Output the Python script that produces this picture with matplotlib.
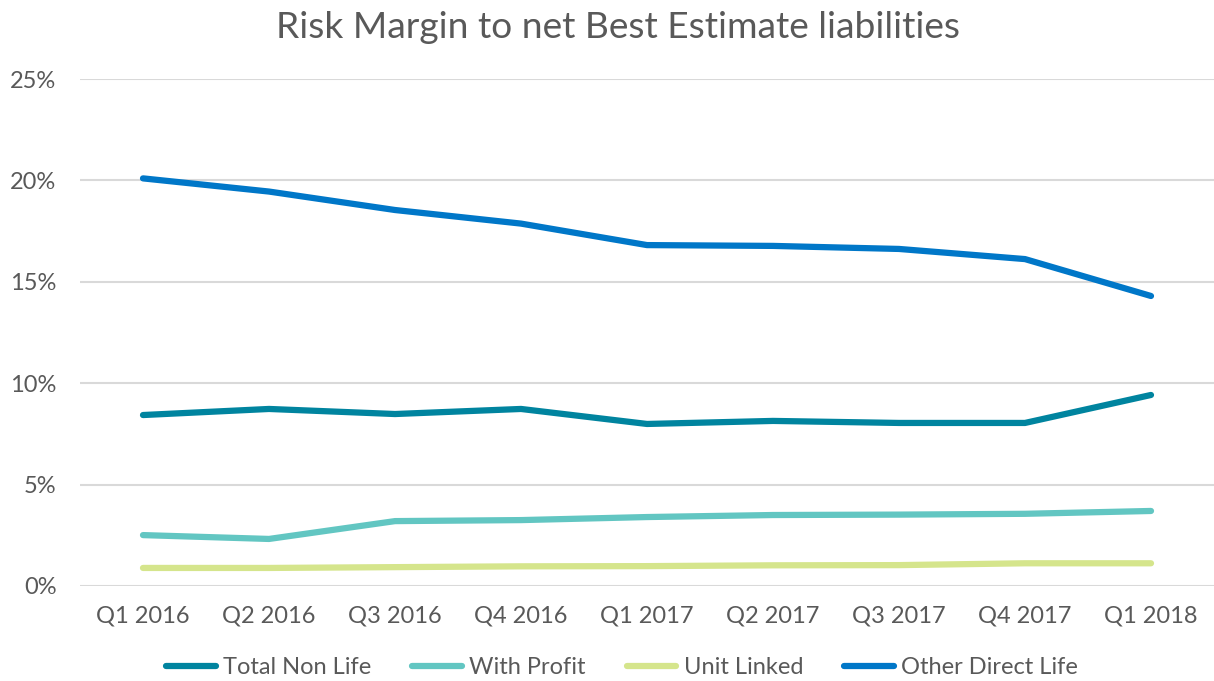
import matplotlib.pyplot as plt
from matplotlib.ticker import PercentFormatter

quarters = ['Q1 2016', 'Q2 2016', 'Q3 2016', 'Q4 2016', 'Q1 2017',
            'Q2 2017', 'Q3 2017', 'Q4 2017', 'Q1 2018']
total_non_life = [8.43, 8.73, 8.48, 8.73, 7.99, 8.14, 8.04, 8.04, 9.42]
with_profit = [2.51, 2.32, 3.20, 3.25, 3.40, 3.50, 3.52, 3.56, 3.70]
unit_linked = [0.89, 0.89, 0.93, 0.97, 0.98, 1.02, 1.03, 1.12, 1.12]
other_direct_life = [20.1, 19.45, 18.54, 17.87, 16.81, 16.77, 16.62, 16.12, 14.3]

plt.rcParams['font.family'] = ['Lato', 'DejaVu Sans']
grey = '#595959'

fig = plt.figure(figsize=(12.14, 6.81), dpi=100)
ax = fig.add_axes([80 / 1214, 1 - 586 / 681, 1134 / 1214, 507 / 681])

x = range(len(quarters))
ax.plot(x, total_non_life, color='#00849F', lw=4.5, solid_capstyle='round', label='Total Non Life')
ax.plot(x, with_profit, color='#62C6C2', lw=4.5, solid_capstyle='round', label='With Profit')
ax.plot(x, unit_linked, color='#D5E58C', lw=4.5, solid_capstyle='round', label='Unit Linked')
ax.plot(x, other_direct_life, color='#0077C8', lw=4.5, solid_capstyle='round', label='Other Direct Life')

ax.set_xlim(-0.5, len(quarters) - 0.5)
ax.set_ylim(0, 25)
ax.set_yticks([0, 5, 10, 15, 20, 25])
ax.yaxis.set_major_formatter(PercentFormatter(decimals=0))
ax.set_xticks(list(x))
ax.set_xticklabels(quarters)
ax.grid(axis='y', color='#D9D9D9', lw=1.5)
ax.set_axisbelow(True)
for s in ax.spines.values():
    s.set_visible(False)
ax.tick_params(length=0, labelsize=17, labelcolor=grey)
ax.tick_params(axis='y', pad=17)
ax.tick_params(axis='x', pad=14)

fig.text(618 / 1214, 1 - 27 / 681, 'Risk Margin to net Best Estimate liabilities',
         ha='center', va='center', fontsize=26.7, color=grey)

leg = fig.legend(loc='center', bbox_to_anchor=(622 / 1214, 1 - 668 / 681), ncol=4,
                 frameon=False, fontsize=17, handlelength=2.1, handletextpad=0.3,
                 columnspacing=1.75)
for t in leg.get_texts():
    t.set_color(grey)

fig.savefig('out.png', dpi=100)
